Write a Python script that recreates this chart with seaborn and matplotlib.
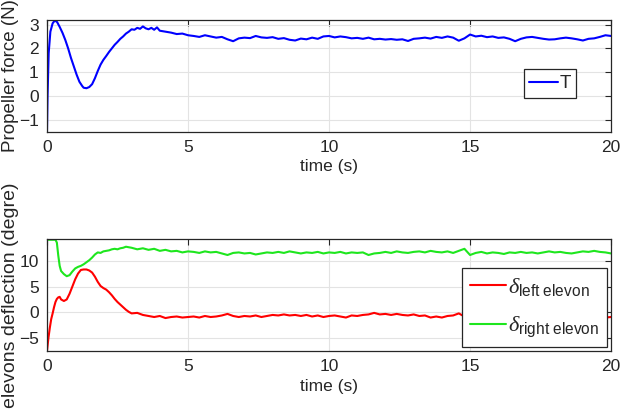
import numpy as np
import pandas as pd
import matplotlib
matplotlib.use("Agg")
import matplotlib.pyplot as plt
import seaborn as sns

# --- propeller force T (N) ---
t_thrust_start = [0, 0.02, 0.06, 0.12, 0.2, 0.28, 0.36, 0.45, 0.55, 0.65,
                  0.75, 0.85, 0.95, 1.05, 1.15, 1.25, 1.3, 1.4, 1.5, 1.6,
                  1.7, 1.8, 1.9, 2.0, 2.1, 2.2, 2.3, 2.4, 2.5, 2.6, 2.7, 2.8, 2.9, 3.0,
                  3.1, 3.2, 3.3, 3.4, 3.5, 3.6, 3.7, 3.8, 3.9, 4.0,
                  4.2, 4.4, 4.6, 4.8, 5.0]
thrust_start = [-1.5, 0.0, 1.8, 2.7, 3.05, 3.17, 3.1, 2.9, 2.65, 2.35,
                2.0, 1.6, 1.25, 0.9, 0.6, 0.42, 0.35, 0.33, 0.38, 0.5,
                0.75, 1.05, 1.32, 1.52, 1.68, 1.85, 2.0, 2.15, 2.27, 2.4, 2.5, 2.62, 2.7, 2.8,
                2.78, 2.86, 2.82, 2.92, 2.84, 2.8, 2.86, 2.78, 2.88, 2.74,
                2.7, 2.66, 2.6, 2.62, 2.55]
thrust_rest = [2.52, 2.48, 2.55, 2.50, 2.45, 2.48, 2.38, 2.30, 2.42, 2.45,
               2.43, 2.52, 2.46, 2.44, 2.47, 2.40, 2.43, 2.36, 2.33, 2.41,
               2.38, 2.45, 2.40, 2.50, 2.52, 2.46, 2.50, 2.47, 2.42, 2.44,
               2.40, 2.45, 2.38, 2.40, 2.37, 2.39, 2.36, 2.38, 2.31, 2.40,
               2.42, 2.45, 2.41, 2.48, 2.44, 2.50, 2.45, 2.32, 2.42, 2.58,
               2.50, 2.53, 2.47, 2.50, 2.44, 2.46, 2.40, 2.30, 2.40, 2.46,
               2.48, 2.44, 2.40, 2.37, 2.38, 2.42, 2.45, 2.42, 2.38, 2.33,
               2.40, 2.42, 2.48, 2.55, 2.52]

# --- elevon deflections (degree) ---
t_elev_start = [0, 0.05, 0.1, 0.15, 0.2, 0.25, 0.3, 0.35, 0.4, 0.45, 0.5,
                0.6, 0.7, 0.8, 0.9, 1.0, 1.1, 1.2, 1.3, 1.4, 1.5, 1.6, 1.7, 1.8,
                1.9, 2.0, 2.1, 2.2, 2.3, 2.4, 2.5, 2.6, 2.7, 2.8, 2.9, 3.0,
                3.2, 3.4, 3.6, 3.8, 4.0, 4.2, 4.4, 4.6, 4.8, 5.0]
left_start = [-7.5, -5.0, -3.0, -1.3, -0.2, 1.0, 2.0, 2.6, 2.9, 3.0, 2.5,
              2.2, 2.5, 3.6, 5.0, 6.4, 7.5, 8.2, 8.3, 8.3, 8.1, 7.7, 6.9, 5.9,
              5.1, 4.7, 4.4, 3.9, 3.3, 2.6, 2.0, 1.5, 1.0, 0.5, 0.1, -0.2,
              -0.1, -0.5, -0.7, -0.9, -0.7, -1.1, -0.9, -0.8, -1.0, -0.9]
left_rest = [-0.8, -1.0, -0.7, -0.9, -0.8, -0.6, -0.3, -0.7, -0.9, -0.7,
             -0.8, -0.6, -0.9, -0.7, -0.5, -0.6, -0.4, -0.6, -0.5, -0.7,
             -0.5, -0.8, -0.6, -0.9, -0.7, -0.6, -0.8, -1.0, -0.6, -0.7,
             -0.5, -0.4, -0.1, -0.4, -0.3, -0.5, -0.3, -0.5, -0.6, -0.4,
             -0.7, -0.6, -1.0, -0.8, -1.0, -0.7, -0.6, -0.2, -0.8, -0.9,
             -0.7, -0.8, -0.6, -0.9, -0.7, -0.8, -0.6, -0.9, -0.8, -0.7,
             -0.9, -0.7, -0.8, -0.6, -0.8, -0.9, -0.7, -0.8, -1.0, -0.8,
             -0.7, -0.9, -0.8, -1.0, -0.9]
right_start = [14.05, 14.05, 14.05, 14.05, 14.05, 14.05, 14.05, 13.5, 11.0, 9.0, 8.0,
               7.4, 7.0, 7.2, 7.9, 8.5, 8.8, 9.0, 9.3, 9.7, 10.1, 10.6, 11.2, 11.6,
               11.5, 11.8, 11.9, 12.0, 12.2, 12.3, 12.2, 12.4, 12.5, 12.7, 12.6, 12.5,
               12.2, 12.4, 12.1, 12.3, 11.9, 12.1, 11.8, 11.9, 11.6, 11.8]
right_rest = [11.7, 11.5, 11.8, 11.6, 11.7, 11.4, 11.1, 11.5, 11.6, 11.4,
              11.5, 11.2, 11.4, 11.6, 11.5, 11.7, 11.5, 11.8, 11.6, 11.4,
              11.6, 11.5, 11.7, 11.4, 11.6, 11.5, 11.7, 11.4, 11.6, 11.5,
              11.6, 11.1, 11.4, 11.5, 11.7, 11.5, 11.8, 11.6, 11.5, 11.7,
              11.8, 11.6, 11.9, 11.7, 11.6, 11.8, 11.5, 11.9, 12.3, 11.1,
              11.5, 11.7, 11.4, 11.6, 11.5, 11.3, 11.6, 11.5, 11.7, 11.5,
              11.6, 11.4, 11.6, 11.8, 11.6, 11.7, 11.5, 11.4, 11.6, 11.8,
              11.7, 11.9, 11.7, 11.6, 11.4]

t_rest = list(np.round(np.arange(5.2, 20.01, 0.2), 1))

thrust_df = pd.DataFrame({"time": t_thrust_start + t_rest,
                          "T": thrust_start + thrust_rest})
elev_df = pd.DataFrame({"time": t_elev_start + t_rest,
                        "left": left_start + left_rest,
                        "right": right_start + right_rest})

sns.set_theme(style="whitegrid")
plt.rcParams['font.family'] = ['Liberation Sans', 'DejaVu Sans']
plt.rcParams['mathtext.fontset'] = 'custom'
plt.rcParams['mathtext.rm'] = 'Liberation Sans'
plt.rcParams['mathtext.it'] = 'Liberation Serif:italic'

dark = '#262626'
fig = plt.figure(figsize=(6.24, 4.2), dpi=100)
ax1 = fig.add_axes([0.0753, 0.686, 0.904, 0.267])
ax2 = fig.add_axes([0.0753, 0.164, 0.904, 0.267])

sns.lineplot(data=thrust_df, x="time", y="T", ax=ax1, color='#0000ff',
             linewidth=1.5, label='T')
sns.lineplot(data=elev_df, x="time", y="left", ax=ax2, color='#ff0000',
             linewidth=1.5, label=r'$\delta_{\mathrm{left\ elevon}}$')
sns.lineplot(data=elev_df, x="time", y="right", ax=ax2, color='#1ee61e',
             linewidth=1.5, label=r'$\delta_{\mathrm{right\ elevon}}$')

ax1.set_ylim(-1.5, 3.2)
ax1.set_yticks([-1, 0, 1, 2, 3])
ax2.set_ylim(-7.5, 14.2)
ax2.set_yticks([-5, 0, 5, 10])

for ax in (ax1, ax2):
    ax.set_xlim(0, 20)
    ax.set_xticks([0, 5, 10, 15, 20])
    ax.set_facecolor('white')
    ax.grid(True, color='#e3e3e3', linewidth=0.8)
    for s in ax.spines.values():
        s.set_color(dark)
        s.set_linewidth(0.9)
    ax.tick_params(direction='in', top=True, right=True, length=4,
                   width=0.8, colors=dark, labelsize=12.5, pad=6)
    ax.set_xlabel('time (s)', fontsize=12.5, color=dark, labelpad=3)

ax1.set_ylabel('Propeller force (N)', fontsize=13.5, color=dark)
ax2.set_ylabel('elevons deflection (degre)', fontsize=14, color=dark)
ax1.yaxis.set_label_coords(-0.05, 0.5)
ax2.yaxis.set_label_coords(-0.05, 0.5)

leg1 = ax1.legend(loc='center', bbox_to_anchor=(0.892, 0.43), fontsize=13.5,
                  fancybox=False, framealpha=1, edgecolor=dark,
                  handlelength=1.5, handletextpad=0.1, borderpad=0.3,
                  borderaxespad=0)
leg1.get_frame().set_linewidth(0.9)

leg2 = ax2.legend(loc='lower right', bbox_to_anchor=(0.993, 0.036), fontsize=16,
                  fancybox=False, framealpha=1, edgecolor=dark,
                  handlelength=1.6, handletextpad=0.1, borderpad=0.35,
                  labelspacing=0.75, borderaxespad=0)
leg2.get_frame().set_linewidth(0.9)

fig.savefig('out.png', dpi=100)
